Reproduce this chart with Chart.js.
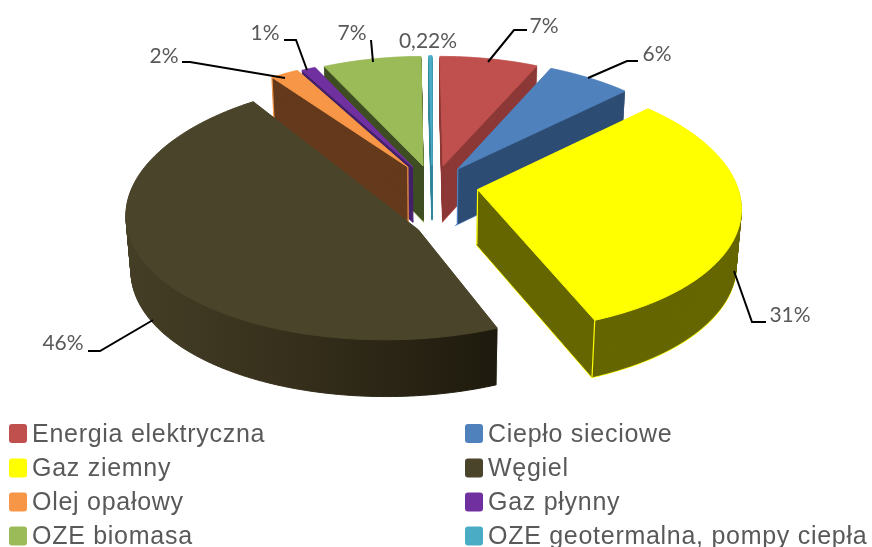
<!DOCTYPE html>
<html><head><meta charset="utf-8">
<style>html,body{margin:0;padding:0;background:#fff}#w{width:872px;height:547px;position:relative}</style>
<script src="https://cdn.jsdelivr.net/npm/chart.js@4"></script></head>
<body><div id="w"><canvas id="c" width="872" height="547"></canvas></div>
<script>
const categories=["Energia elektryczna","Ciepło sieciowe","Gaz ziemny","Węgiel","Olej opałowy","Gaz płynny","OZE biomasa","OZE geotermalna, pompy ciepła"];
const shares=[7,6,31,46,2,1,7,0.22];
const shareLabels=["7%","6%","31%","46%","2%","1%","7%","0,22%"];
const topColors=["#C0504D","#4F81BD","#FFFF00","#4A452A","#F79646","#7030A0","#9BBB59","#4BACC6"];
const wallColors=["#8C3836","#2E4D74","#666600","#3A3420","#653A1C","#43206A","#3F4D22","#31859C"];
const drawOrder=[7,6,5,4,0,1,2,3];
// exploded position of each slice on the pie plane, in pie radii
const arcShift=[[.035,-.170],[.095,-.145],[.175,.02],[-.155,.07],[-.095,-.161],[-.075,-.161],[-.035,-.170],[0,-.178]];
const tipShift=[[.043,-.170],[.101,-.145],[.175,.02],[-.05,.328],[-.095,-.161],[-.075,-.161],[-.035,-.170],[0,-.178]];
const view={cx:432,cy:187,f:260,g:126,kx:.13,ky:.11,depth:55,taper:.0003,near:.03};
const outlined=[0,1,2,4,5,6,7];
const visibleEdges=[[],["tip"],["tip","end"],[],["tip","start"],[],[],[]];
const leaders=[[[488,62],[514,30],[527,30]],[[588,78],[627,61],[638,61]],[[734,271],[752,322],[766,322]],[[153,320],[100,351],[88,351]],[[285,78],[190,62],[182,62]],[[307,70],[296,40],[284,40]],[[373,62],[371,40]],null];
const labelAt=[[544,26],[657,54],[790,315],[63,343],[164,56],[265,33],[352,33],[428,41]];
const legendCols=[10,466],legendRows=[433.5,468,502,536];

function project(i,el,px,py,z){
  const dx=(px-el.x)/el.outerRadius,dy=(py-el.y)/el.outerRadius;
  const s=Math.hypot(dx,dy)<.01?tipShift[i]:arcShift[i];
  const X=dx+s[0],Y=dy+s[1],t=1-view.taper*z;
  return [view.cx+view.f*X/(1-view.kx*Y)*t,view.cy+view.g*Y/(1-view.ky*Y)+z*(1+view.near*Y)];
}
function planeCtx(ctx,i,el,z,paint,mode){
  const pt=(x,y)=>project(i,el,x,y,z);
  const over={
    moveTo(x,y){const p=pt(x,y);ctx.moveTo(p[0],p[1]);},
    lineTo(x,y){const p=pt(x,y);ctx.lineTo(p[0],p[1]);},
    arc(x,y,r,a,b,ccw){
      if(!(r>0)||!isFinite(a)||!isFinite(b)){const p=pt(x,y);ctx.lineTo(p[0],p[1]);return;}
      const n=72;for(let j=0;j<=n;j++){const t=a+(b-a)*j/n;const p=pt(x+r*Math.cos(t),y+r*Math.sin(t));ctx.lineTo(p[0],p[1]);}
    },
    fill(){ if(mode==='stroke'){ctx.lineWidth=1.5;ctx.stroke();} else {ctx.fill();ctx.lineWidth=1;ctx.stroke();} },
    translate(){}
  };
  return new Proxy(ctx,{
    get(t,k){ if(k in over) return over[k]; const v=t[k]; return typeof v==='function'?v.bind(t):v; },
    set(t,k,v){ if(k==='fillStyle'){t.fillStyle=paint;} else if(k==='strokeStyle'){t.strokeStyle=paint;} else {t[k]=v;} return true; }
  });
}
const pie3d={id:'pie3d',
  beforeDatasetsDraw(chart){
    const ctx=chart.ctx,els=chart.getDatasetMeta(0).data;
    const grad=ctx.createLinearGradient(130,0,498,0);
    grad.addColorStop(0,'#453E26');grad.addColorStop(.5,'#332D1A');grad.addColorStop(1,'#1E1A0D');
    drawOrder.forEach(i=>{
      const el=els[i],wall=i===3?grad:wallColors[i],top=topColors[i];
      // thin light rim: only the part outside the wall stays visible
      if(outlined.includes(i)) el.draw(planeCtx(ctx,i,el,view.depth+.5,top,'stroke'));
      for(let z=view.depth;z>=1;z--) el.draw(planeCtx(ctx,i,el,z,wall,'fill'));
      const R=el.outerRadius,corner={tip:[el.x,el.y],start:[el.x+R*Math.cos(el.startAngle),el.y+R*Math.sin(el.startAngle)],end:[el.x+R*Math.cos(el.endAngle),el.y+R*Math.sin(el.endAngle)]};
      ctx.save();ctx.lineWidth=1.2;ctx.strokeStyle=top;
      visibleEdges[i].forEach(n=>{
        const a=project(i,el,corner[n][0],corner[n][1],0),b=project(i,el,corner[n][0],corner[n][1],view.depth);
        ctx.beginPath();ctx.moveTo(a[0],a[1]);ctx.lineTo(b[0],b[1]);ctx.stroke();
      });
      ctx.restore();
      el.draw(planeCtx(ctx,i,el,0,top,'fill'));
    });
    return false;
  },
  afterDraw(chart){
    const ctx=chart.ctx;ctx.save();
    ctx.strokeStyle='#000';ctx.lineWidth=2;ctx.lineJoin='miter';
    leaders.forEach(l=>{ if(!l) return; ctx.beginPath();l.forEach((p,j)=>j?ctx.lineTo(p[0],p[1]):ctx.moveTo(p[0],p[1]));ctx.stroke(); });
    ctx.fillStyle='#595959';ctx.font='21px Lato';ctx.textAlign='center';ctx.textBaseline='middle';
    shareLabels.forEach((t,i)=>ctx.fillText(t,labelAt[i][0],labelAt[i][1]));
    ctx.font='25px "Liberation Sans"';ctx.textAlign='left';ctx.letterSpacing='0.72px';
    categories.forEach((t,i)=>{
      const x=legendCols[i%2],y=legendRows[i>>1];
      ctx.fillStyle=topColors[i];ctx.beginPath();ctx.roundRect(x-1,y-9.5,18,19,3);ctx.fill();
      ctx.fillStyle='#595959';ctx.fillText(t,x+22,y+1.5);
    });
    ctx.restore();
  }
};
new Chart(document.getElementById('c'),{
  type:'pie',
  data:{labels:categories,datasets:[{data:shares,backgroundColor:topColors,borderWidth:0}]},
  options:{responsive:false,animation:false,plugins:{legend:{display:false},tooltip:{enabled:false}}},
  plugins:[pie3d]
});
</script></body></html>
